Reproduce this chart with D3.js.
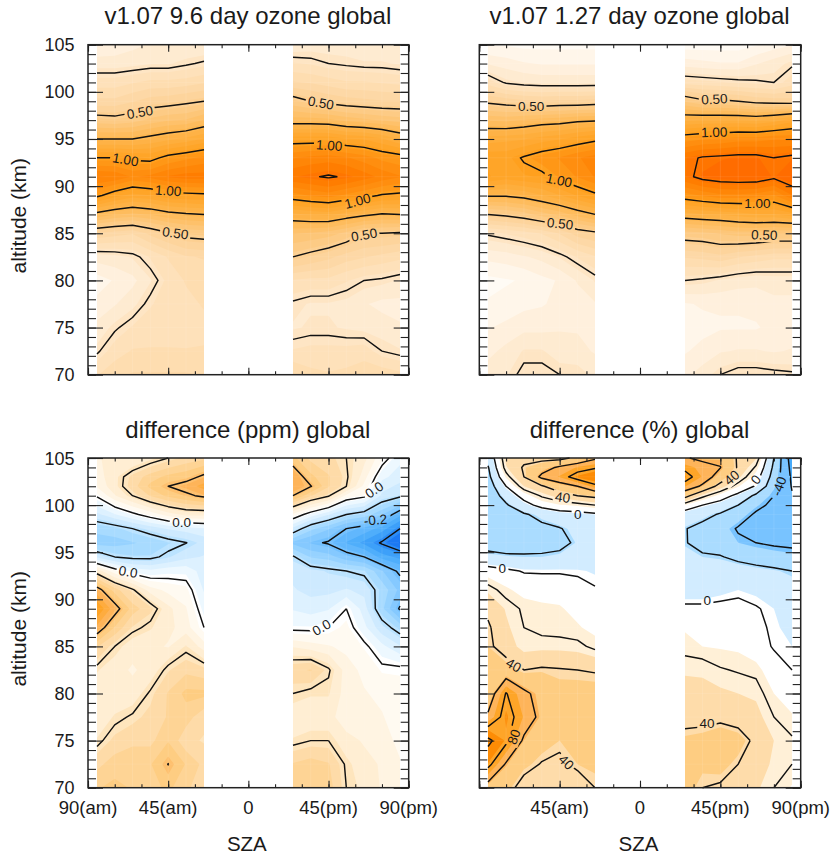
<!DOCTYPE html>
<html><head><meta charset="utf-8">
<script src="https://cdn.jsdelivr.net/npm/d3@7"></script>
<style>html,body{margin:0;padding:0;background:#fff}svg{display:block}text{font-family:"Liberation Sans",Arial,sans-serif;fill:#1a1a1a}</style>
</head><body><div id="c"></div>
<script>
// ---------- data ----------
const amSza = [-85,-75,-65,-55,-45,-35,-25];
const pmSza = [25,35,45,55,65,75,85];
const altOzone = [70,72.5,75,77.5,80,82.5,85,87,89,91,93,95,97,99,101,103,105];
const altDiff  = [70,72.5,75,77.5,80,82.5,85,87,89,91,93,94.5,96,97.5,99,101,102,103,105];
const altPct   = [70,72.5,75,77.5,80,82.5,85,87,89,91,93,94.5,96,97.5,99,100,101,102,103,104,105];

// each inner list: one SZA column, bottom to top
const ozone96Am = [
[.32,.24,.19,.14,.10,.20,.42,.72,1.02,1.18,1.00,.75,.54,.39,.30,.20,.13],
[.36,.30,.24,.17,.13,.21,.40,.68,.95,1.17,1.00,.75,.53,.39,.30,.20,.14],
[.38,.33,.28,.21,.16,.23,.38,.66,.90,1.12,.98,.75,.55,.42,.32,.21,.16],
[.38,.33,.30,.27,.22,.28,.44,.68,.92,1.14,.97,.78,.59,.45,.34,.22,.18],
[.38,.33,.30,.30,.29,.33,.49,.72,.96,1.18,1.03,.81,.62,.46,.34,.22,.18],
[.38,.33,.29,.31,.33,.37,.53,.74,.97,1.20,1.06,.84,.63,.48,.35,.24,.18],
[.37,.33,.31,.33,.34,.38,.54,.75,.98,1.20,1.09,.88,.68,.50,.37,.26,.18]];
const ozone96Pm = [
[.38,.28,.22,.24,.32,.50,.63,.81,1.05,1.22,1.12,.96,.70,.54,.38,.28,.19],
[.34,.29,.23,.22,.31,.47,.62,.83,1.08,1.24,1.14,.96,.70,.50,.37,.27,.20],
[.33,.29,.23,.22,.31,.44,.60,.84,1.10,1.26,1.15,.96,.69,.47,.35,.25,.20],
[.34,.29,.22,.21,.28,.40,.56,.80,1.06,1.24,1.13,.93,.66,.45,.33,.24,.20],
[.36,.30,.21,.18,.25,.38,.50,.77,1.03,1.20,1.10,.92,.64,.44,.33,.23,.19],
[.36,.25,.20,.16,.24,.36,.50,.74,.99,1.16,1.06,.88,.62,.43,.32,.23,.19],
[.34,.23,.18,.16,.22,.34,.49,.75,.98,1.13,1.04,.82,.60,.43,.31,.22,.19]];
const ozone127Am = [
[.20,.16,.12,.08,.06,.14,.26,.50,.76,.98,.96,.85,.67,.48,.30,.17,.07],
[.22,.19,.14,.09,.07,.15,.28,.52,.76,.95,.96,.86,.66,.46,.24,.15,.07],
[.27,.23,.16,.11,.08,.17,.30,.55,.78,.97,1.01,.87,.68,.44,.22,.13,.06],
[.27,.23,.16,.12,.11,.19,.33,.60,.82,.98,1.05,.90,.70,.43,.21,.12,.06],
[.25,.20,.17,.14,.13,.23,.38,.64,.87,1.03,1.08,.92,.71,.44,.21,.12,.06],
[.25,.19,.17,.15,.18,.28,.45,.70,.93,1.08,1.12,.95,.73,.44,.21,.12,.06],
[.21,.17,.16,.17,.23,.32,.48,.75,.98,1.13,1.15,.98,.74,.45,.21,.12,.06]];
const ozone127Pm = [
[.16,.12,.10,.12,.25,.38,.55,.80,1.05,1.22,1.22,1.05,.82,.57,.30,.15,.05],
[.20,.14,.11,.13,.24,.39,.56,.82,1.08,1.28,1.26,1.07,.83,.52,.29,.14,.05],
[.25,.17,.12,.13,.22,.41,.58,.83,1.11,1.30,1.27,1.08,.83,.52,.28,.13,.05],
[.28,.18,.12,.13,.20,.38,.60,.85,1.11,1.31,1.28,1.10,.83,.50,.27,.13,.05],
[.28,.18,.12,.14,.19,.36,.60,.87,1.10,1.31,1.28,1.10,.82,.47,.26,.17,.07],
[.27,.17,.14,.16,.20,.34,.58,.87,1.07,1.27,1.25,1.12,.85,.46,.25,.20,.10],
[.26,.18,.14,.16,.20,.34,.58,.90,1.17,1.33,1.27,1.12,.90,.45,.30,.24,.12]];
const diffPpmAm = [
[.16,.13,.09,.07,.07,.09,.14,.23,.29,.22,.08,-.07,-.15,-.13,-.07,.005,.04,.05,.06],
[.17,.15,.12,.09,.07,.07,.10,.16,.22,.15,.02,-.10,-.15,-.12,-.04,.06,.08,.08,.07],
[.16,.16,.13,.105,.07,.06,.07,.11,.15,.105,-.02,-.11,-.14,-.10,-.01,.10,.125,.12,.06],
[.15,.16,.13,.12,.105,.07,.07,.09,.12,.05,-.03,-.11,-.13,-.08,.02,.14,.17,.15,.08],
[.17,.201,.16,.14,.14,.11,.06,.07,.07,.03,-.02,-.09,-.115,-.06,.05,.17,.20,.17,.10],
[.14,.16,.12,.15,.17,.13,.09,.05,.04,.02,-.02,-.07,-.101,-.05,.07,.19,.22,.18,.12],
[.13,.13,.11,.12,.17,.12,.05,.00,-.02,-.04,-.05,-.06,-.08,-.04,.07,.21,.25,.21,.13]];
const diffPpmPm = [
[.15,.14,.09,.07,.10,.13,.06,-.01,-.04,-.06,-.07,-.095,-.17,-.07,.03,.20,.23,.24,.17],
[.16,.15,.10,.07,.09,.14,.05,-.01,-.05,-.07,-.08,-.14,-.19,-.13,-.02,.14,.203,.17,.13],
[.15,.14,.10,.07,.09,.105,.04,.00,-.04,-.07,-.09,-.15,-.205,-.16,-.06,.105,.14,.14,.12],
[.10,.095,.07,.05,.05,.05,.03,.02,.00,-.06,-.10,-.18,-.24,-.20,-.10,.03,.10,.105,.10],
[.08,.07,.06,.05,.04,.03,.01,-.03,-.05,-.07,-.11,-.20,-.27,-.22,-.12,.01,.03,.05,.07],
[.06,.06,.05,.04,.03,.01,-.03,-.08,-.13,-.12,-.16,-.25,-.305,-.25,-.16,-.07,-.05,-.03,.02],
[.04,.04,.03,.02,.02,.01,-.06,-.12,-.205,-.17,-.21,-.27,-.34,-.30,-.23,-.09,-.07,-.05,-.03]];
const diffPctAm = [
[52,85,105,63,48,44,43,42,37,25,7,-15,-27,-32,-33,-33,-32,-30,-25,-21,-15],
[47,58,84,88,81,48,33,29,26,15,3,-17,-30,-33,-28,-22,-13,0,15,26,30],
[33,46,57,70,64,40,23,20,18,9,-1,-18,-28,-27,-22,-7,7,27,40,42,35],
[30,39,48,55,53,42,24,17,15,9,-1.5,-18,-26,-24,-15,6,22,38,64,52,34],
[28,37,43,46,46,41,24,16,14,9,-1.5,-16,-25,-21,-8,12,32,52,72,63,35],
[32,43,45,47,47,40,23,14,10,5,-2,-14,-17,-14,-6,15,40,60,88,72,44],
[40,45,47,48,47,39,17,10,7,1,-4,-12,-15,-12,-3,20,45,76,96,78,57]];
const diffPctPm = [
[47,46,45,35,30,26,16,12,3,-9,-13,-15,-19,-19,-10,13,47,72,88,75,62],
[40,45,47,35,29,26,13,8,3,-9,-15,-18,-25,-26,-14,0,24,57,70,68,55],
[38,47,52,36,29,21,12,7,4,-6,-13,-19,-28,-30,-22,-8,9,33,52,60.5,56],
[33,40,48,33,27,19,11,6,4,-3,-12,-24,-36,-42,-29,-20,-5,14,30,38,38],
[29,33,36,31,25,17,5,3,1,-5,-15,-27,-40,-50,-43,-34,-24,-2,8,18,28],
[20,25,27,20,13,5,-1,-2,-3,-6,-17,-30,-43,-53,-48,-45,-40,-34,-28,-24,-20],
[12,20,21.5,14,8,0,-3,-5,-9,-13,-20,-33,-44,-55,-58,-59,-59,-61,-63,-66,-70]];

const altTicksMajor = [70,75,80,85,90,95,100,105];
const altTicksMinor = d3.range(70,106);
const szaTicksMajor = [-90,-45,0,45,90];
const szaTicksMinor = d3.range(-90,91,15);
const szaLabels = {"-90":"90(am)","-45":"45(am)","0":"0","45":"45(pm)","90":"90(pm)"};

const ozoneLevels = [.25,.5,.75,1,1.25,1.5];
const ppmLevels = [-.3,-.2,-.1,0,.1,.2,.3];
const pctLevels = [-60,-40,-20,0,20,40,60,80,100];
const pctBandEdges = [-1e6,-60,-36,-18,-3,13,27,43,57,71,86];
const pctBandColors = ["#46aafa","#78c3ff","#aadcff","#d2ecff","#ffffff","#fff0d7","#fedcaa","#fecd82","#feb45a","#fea528","#fd8c05"];
const ozoneColorValues = [0,.1,.25,.5,.75,1,1.2,1.35];
const ozoneColors = ["#ffffff","#fff6ea","#fee5c4","#fdd092","#feb750","#ffa01e","#ff7d00","#ff6400"];

const ozoneLabels = [
 [["0.50",-60.9,97.8,-10],["1.00",-69,92.8,10],["1.00",-45,89.5,4],["0.50",-41,85,8],["0.50",40.7,98.8,10],["1.00",45.4,94.3,4],["1.00",61.3,88.4,-15],["0.50",65,84.8,-10]],
 [["0.50",-61,98.4,0],["1.00",-45.4,90.6,12],["0.50",-44.8,86,6],["0.50",41.6,99.2,-3],["1.00",41.6,95.7,-2],["1.00",65.8,88.2,0],["0.50",69.6,84.8,2]]];
const ppmLabels = [["0.0",-37.5,98.1,0],["0.0",-67.5,92.9,10],["0.0",70.7,101.6,-35],["-0.2",71.3,98.4,-5],["0.0",41.2,87,-30]];
const pctLabels = [["40",-43.3,100.8,8],["0",-34.9,99,0],["0",-77.1,93.3,0],["40",-70.9,83,30],["80",-70.5,75.4,-70],["40",-41.4,72.7,45],["40",51.4,102.9,-40],["0",65,102.7,-50],["-40",78,102,-70],["0",37.7,89.9,0],["40",37.5,76.8,0]];

// ---------- colour ----------
const pos = d3.scaleLinear().domain([0,.2,.35,.5,.64,.78,.93,1,1.3])
  .range(["#ffffff","#fff0d7","#fedcaa","#fecd82","#feb45a","#fea528","#fd8c05","#fd6e00","#f05000"]).clamp(true);
const neg = d3.scaleLinear().domain([0,.1,.2,.35,.55,.75,1])
  .range(["#ffffff","#e6f5ff","#d2ecff","#aadcff","#78c3ff","#46aafa","#0a64f0"]).clamp(true);
const ramp = t => t>=0 ? pos(t) : neg(-t);
function bandsFrom(step,colorOf,lo,hi){
  const e=[-1e6], c=[colorOf(lo)];
  for(let v=lo+step/2; v<hi; v+=step){ e.push(v); c.push(colorOf(v+step/2)); }
  return {edges:e,colors:c};
}
const ozoneScale = d3.scaleLinear().domain(ozoneColorValues).range(ozoneColors).clamp(true);
const ozoneBands = bandsFrom(.05,ozoneScale,0,1.6);
const ppmBands = bandsFrom(.025,v=>ramp(v/.35),-.4,.4);
const pctBands = {edges:pctBandEdges,colors:pctBandColors};

// ---------- layout ----------
const W=834,H=855;
const svg=d3.select("#c").append("svg").attr("width",W).attr("height",H);
const defs=svg.append("defs");
const panels=[
 {l:88,r:408.7,t:44.7,b:374.7,title:"v1.07 9.6 day ozone global",tb:24,am:ozone96Am,pm:ozone96Pm,alt:altOzone,bands:ozoneBands,levels:ozoneLevels,labels:ozoneLabels[0],left:true,bottom:false},
 {l:479.3,r:800.7,t:44.7,b:374.7,title:"v1.07 1.27 day ozone global",tb:24,am:ozone127Am,pm:ozone127Pm,alt:altOzone,bands:ozoneBands,levels:ozoneLevels,labels:ozoneLabels[1],left:false,bottom:false},
 {l:88,r:408.7,t:458,b:787.7,title:"difference (ppm) global",tb:437.5,am:diffPpmAm,pm:diffPpmPm,alt:altDiff,bands:ppmBands,levels:ppmLevels,labels:ppmLabels,left:true,bottom:true},
 {l:479.3,r:800.7,t:458,b:787.7,title:"difference (%) global",tb:437.5,am:diffPctAm,pm:diffPctPm,alt:altPct,bands:pctBands,levels:pctLevels,labels:pctLabels,left:false,bottom:true}
];

function drawBlock(g,sza,cols,alts,x,y,bands,levels,lineG){
  const n=sza.length,m=alts.length,vals=new Array(n*m);
  cols.forEach((c,i)=>c.forEach((v,j)=>{vals[j*n+i]=v;}));
  const xi=d3.scaleLinear().domain(d3.range(n)).range(sza).clamp(true);
  const yi=d3.scaleLinear().domain(d3.range(m)).range(alts).clamp(true);
  const map=(px,py)=>{
    let X=x(xi(px-.5));
    if(px<=.5||px>=n-.5) X=Math.round(X); // whole-pixel block edges
    return [X,y(yi(py-.5))];
  };
  const path=d3.geoPath(d3.geoTransform({point(px,py){const p=map(px,py);this.stream.point(p[0],p[1]);}}));
  const maker=d3.contours().size([n,m]);
  bands.edges.forEach((e,i)=>{
    g.append("path").attr("d",path(maker.contour(vals,e))).attr("fill",bands.colors[i]).attr("fill-rule","evenodd");
  });
  // faint seams along the data grid
  sza.slice(1,-1).forEach(s=>g.append("line").attr("x1",x(s)).attr("x2",x(s)).attr("y1",y(70)).attr("y2",y(105)).attr("stroke","#fff").attr("stroke-opacity",.14).attr("stroke-width",.7));
  alts.slice(1,-1).forEach(a=>g.append("line").attr("x1",x(sza[0])).attr("x2",x(sza[n-1])).attr("y1",y(a)).attr("y2",y(a)).attr("stroke","#fff").attr("stroke-opacity",.1).attr("stroke-width",.7));
  // contour lines, without the outline along the grid border
  levels.forEach(lv=>{
    let d="";
    maker.contour(vals,lv).coordinates.forEach(poly=>poly.forEach(ring=>{
      let pen=false;
      for(let k=0;k<ring.length-1;k++){
        const a=ring[k],b=ring[k+1];
        const onEdge=(a[0]<=.5&&b[0]<=.5)||(a[0]>=n-.5&&b[0]>=n-.5)||(a[1]<=.5&&b[1]<=.5)||(a[1]>=m-.5&&b[1]>=m-.5);
        if(onEdge){pen=false;continue;}
        const pa=map(a[0],a[1]),pb=map(b[0],b[1]);
        if(!pen){d+="M"+pa[0].toFixed(2)+","+pa[1].toFixed(2);pen=true;}
        d+="L"+pb[0].toFixed(2)+","+pb[1].toFixed(2);
      }
    }));
    if(d) lineG.append("path").attr("d",d);
  });
}

panels.forEach((p,idx)=>{
  const x=d3.scaleLinear().domain([-90,90]).range([p.l,p.r]);
  const y=d3.scaleLinear().domain([70,105]).range([p.b,p.t]);
  const g=svg.append("g");
  const maskId="m"+idx;
  const mask=defs.append("mask").attr("id",maskId).attr("maskUnits","userSpaceOnUse").attr("x",0).attr("y",0).attr("width",W).attr("height",H);
  mask.append("rect").attr("width",W).attr("height",H).attr("fill","#fff");
  const fillG=g.append("g");
  const lineG=svg.append("g").attr("mask","url(#"+maskId+")").attr("fill","none").attr("stroke","#111").attr("stroke-width",1.45).attr("stroke-linejoin","round");
  drawBlock(fillG,amSza,p.am,p.alt,x,y,p.bands,p.levels,lineG);
  drawBlock(fillG,pmSza,p.pm,p.alt,x,y,p.bands,p.levels,lineG);
  // contour labels
  const lg=svg.append("g").attr("font-size",13.5);
  p.labels.forEach(([t,s,a,r])=>{
    const tx=x(s),ty=y(a);
    const w=t.length*7.2+ (t.includes(".")?0:3);
    mask.append("rect").attr("x",-w/2-1).attr("y",-7).attr("width",w+2).attr("height",14).attr("fill","#000").attr("transform",`translate(${tx},${ty}) rotate(${r})`);
    lg.append("text").attr("text-anchor","middle").attr("dominant-baseline","central").attr("transform",`translate(${tx},${ty}) rotate(${r})`).text(t);
  });
  // axes
  const tick=(a,len,vals,fmt)=>a.tickValues(vals).tickSize(len).tickSizeOuter(0).tickFormat(fmt||"");
  const ax=svg.append("g").attr("class","ax");
  ax.append("g").attr("transform",`translate(${p.l},0)`).call(tick(d3.axisLeft(y),-8,altTicksMinor));
  ax.append("g").attr("transform",`translate(${p.l},0)`).call(tick(d3.axisLeft(y),-15,altTicksMajor));
  ax.append("g").attr("transform",`translate(${p.r},0)`).call(tick(d3.axisRight(y),-8,altTicksMinor));
  ax.append("g").attr("transform",`translate(${p.r},0)`).call(tick(d3.axisRight(y),-15,altTicksMajor));
  ax.append("g").attr("transform",`translate(0,${p.b})`).call(tick(d3.axisBottom(x),-3.5,szaTicksMinor));
  ax.append("g").attr("transform",`translate(0,${p.b})`).call(tick(d3.axisBottom(x),-7,szaTicksMajor));
  ax.append("g").attr("transform",`translate(0,${p.t})`).call(tick(d3.axisTop(x),-3.5,szaTicksMinor));
  ax.append("g").attr("transform",`translate(0,${p.t})`).call(tick(d3.axisTop(x),-7,szaTicksMajor));
  ax.selectAll(".domain").remove();
  ax.selectAll("line").attr("stroke","#222").attr("stroke-width",1.1);
  ax.selectAll("text").remove();
  svg.append("rect").attr("x",p.l).attr("y",p.t).attr("width",p.r-p.l).attr("height",p.b-p.t).attr("fill","none").attr("stroke","#222").attr("stroke-width",1.5);
  // text
  svg.append("text").attr("x",(p.l+p.r)/2-.5).attr("y",p.tb).attr("text-anchor","middle").attr("font-size",24).text(p.title);
  if(p.left){
    altTicksMajor.forEach(a=>svg.append("text").attr("x",p.l-13.5).attr("y",y(a)+6.5).attr("text-anchor","end").attr("font-size",18).text(a));
    svg.append("text").attr("transform",`translate(26,${(p.t+p.b)/2+6}) rotate(-90)`).attr("text-anchor","middle").attr("font-size",21).text("altitude (km)");
  }
  if(p.bottom){
    szaTicksMajor.filter(s=>p.left||s!==-90).forEach(s=>svg.append("text").attr("x",x(s)).attr("y",p.b+26).attr("text-anchor","middle").attr("font-size",18.5).text(szaLabels[s]));
    svg.append("text").attr("x",x(0)-1.5).attr("y",p.b+63).attr("text-anchor","middle").attr("font-size",20.5).text("SZA");
  }
});
</script></body></html>
